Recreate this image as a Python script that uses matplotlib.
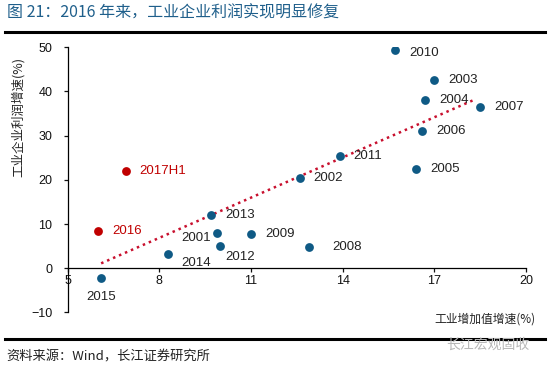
import numpy as np
import matplotlib
matplotlib.use("Agg")
import matplotlib.pyplot as plt

plt.rcParams['font.family'] = ['Liberation Sans', 'Noto Sans CJK SC', 'DejaVu Sans']

# 工业增加值增速 vs 工业企业利润增速
years = ['2001', '2002', '2003', '2004', '2005', '2006', '2007', '2008',
         '2009', '2010', '2011', '2012', '2013', '2014', '2015']
x_ind = [9.9, 12.6, 17.0, 16.7, 16.4, 16.6, 18.5, 12.9,
         11.0, 15.7, 13.9, 10.0, 9.7, 8.3, 6.1]
y_profit = [8.0, 20.5, 42.5, 38.1, 22.5, 31.0, 36.5, 4.8,
            7.7, 49.3, 25.4, 5.1, 12.0, 3.2, -2.3]

new_years = ['2016', '2017H1']
x_new = [6.0, 6.9]
y_new = [8.5, 22.0]

# trend line end points
trend_x = [6.1, 18.3]
trend_y = [1.1, 38.1]

blue = '#0f5a85'
red = '#c00000'

fig = plt.figure(figsize=(5.49, 3.71), dpi=100)
ax = fig.add_axes([0.123, 0.158, 0.835, 0.7145])

ax.scatter(x_ind, y_profit, s=40, color=blue, zorder=3, linewidths=0)
ax.scatter(x_new, y_new, s=40, color=red, zorder=3, linewidths=0)

ax.plot(trend_x, trend_y, color='#c8102e', lw=1.8, ls=(0, (1, 1.6)), zorder=2)

# label offsets in pixels (dx, dy, ha)
offs = {'2001': (-6, -5, 'right'), '2012': (5, -11, 'left'),
        '2014': (13, -9, 'left'), '2015': (0, -19, 'center'),
        '2010': (15, -3, 'left'), '2008': (23, 0, 'left')}
for yr, xv, yv in zip(years, x_ind, y_profit):
    dx, dy, ha = offs.get(yr, (14, 0, 'left'))
    ax.annotate(yr, (xv, yv), xytext=(dx, dy), textcoords='offset pixels',
                ha=ha, va='center', fontsize=9.5, color='#222222')
for yr, xv, yv in zip(new_years, x_new, y_new):
    ax.annotate(yr, (xv, yv), xytext=(14, 0), textcoords='offset pixels',
                ha='left', va='center', fontsize=9.5, color=red)

ax.set_xlim(5, 20)
ax.set_ylim(-10, 50)
ax.set_xticks([5, 8, 11, 14, 17, 20])
ax.set_yticks(range(-10, 51, 10))
ax.spines['bottom'].set_position(('data', 0))
ax.spines['top'].set_visible(False)
ax.spines['right'].set_visible(False)
for s in ['left', 'bottom']:
    ax.spines[s].set_linewidth(0.9)
ax.tick_params(axis='both', labelsize=9, length=3, width=0.9, colors='#111111')
ax.tick_params(axis='y', pad=8)
ax.tick_params(axis='x', pad=2)
ax.patch.set_alpha(0)

fig.text(0.033, 0.685, '工业企业利润增速(%)', rotation=90, ha='center', va='center',
         fontsize=9, family=['Noto Sans CJK SC'], color='#222222')
fig.text(0.976, 0.14, '工业增加值增速(%)', ha='right', va='center',
         fontsize=8.5, family=['Noto Sans CJK SC'], color='#222222')

fig.text(0.012, 0.965, '图 21：2016 年来，工业企业利润实现明显修复', ha='left', va='center',
         fontsize=11.5, family=['Noto Sans CJK SC'], color='#1f5f8b', weight='medium')
fig.lines.append(plt.Line2D([0.009, 0.993], [0.915, 0.915], transform=fig.transFigure,
                            color='black', lw=2.2))
fig.lines.append(plt.Line2D([0.009, 0.993], [0.086, 0.086], transform=fig.transFigure,
                            color='black', lw=2.2))
fig.text(0.012, 0.038, '资料来源：Wind，长江证券研究所', ha='left', va='center',
         fontsize=9.5, family=['Noto Sans CJK SC'], color='#222222')
fig.text(0.965, 0.07, '长江宏观固收', ha='right', va='center',
         fontsize=10, family=['Noto Sans CJK SC'], color='#b8b8b8')

fig.savefig('out.png', dpi=100)
